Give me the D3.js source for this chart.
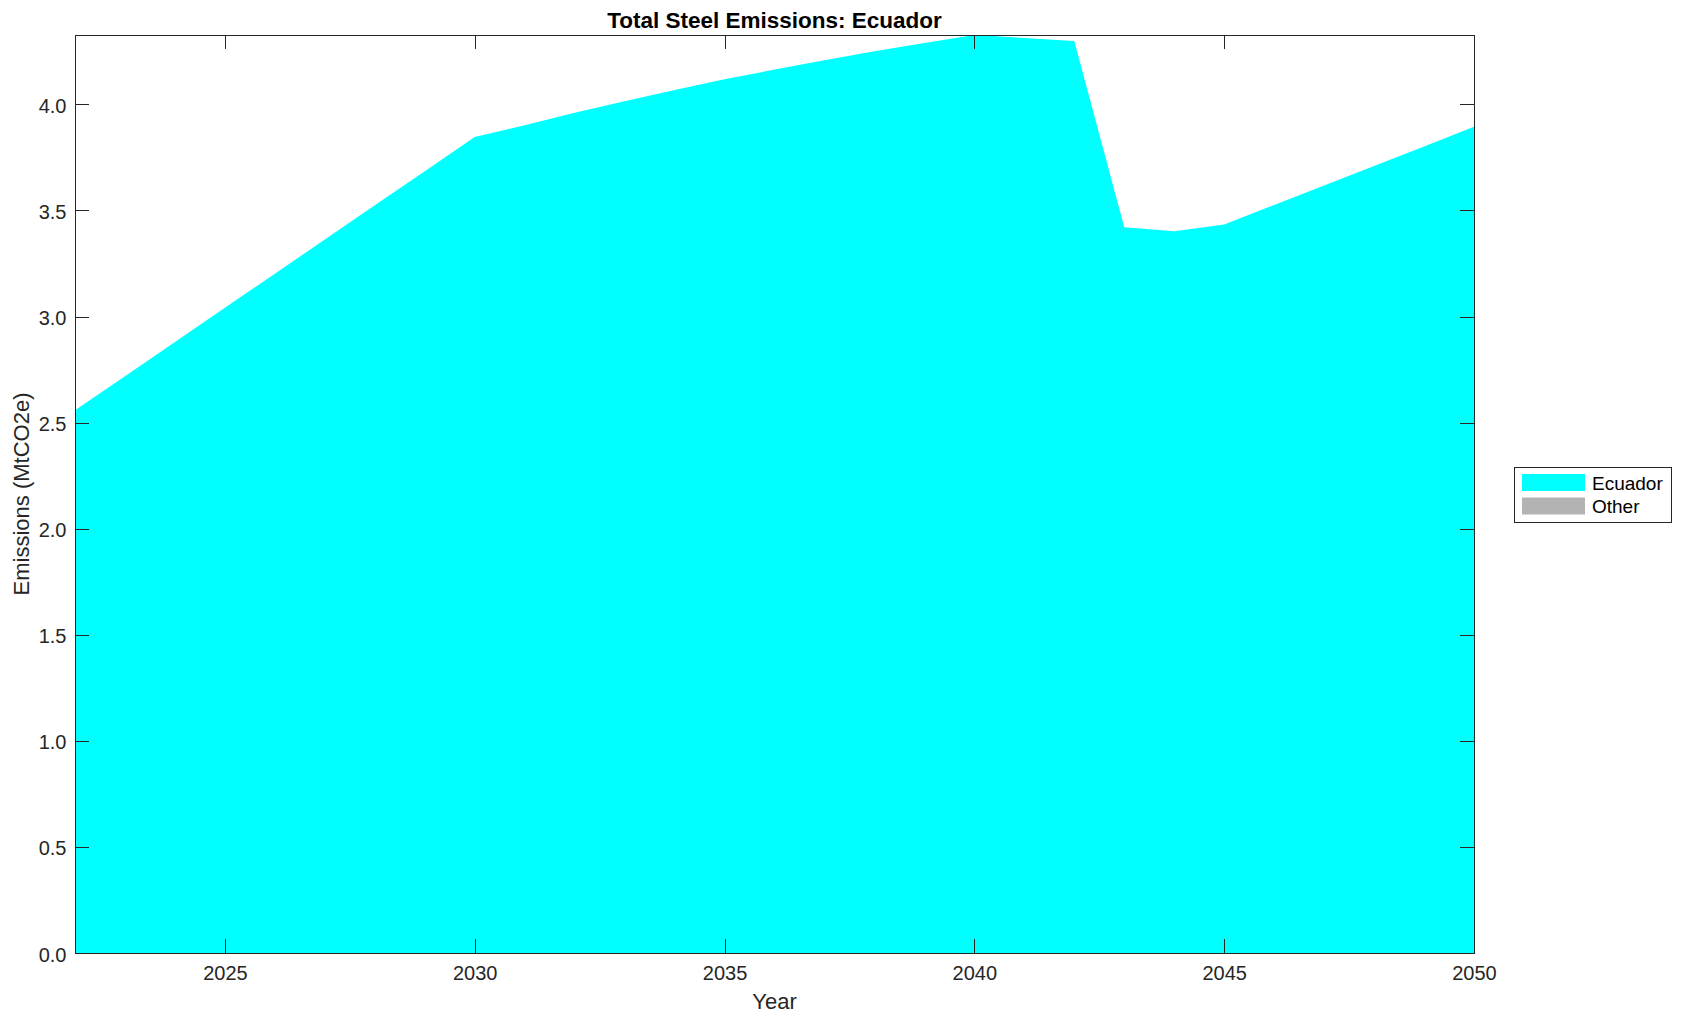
<!DOCTYPE html>
<html>
<head>
<meta charset="utf-8">
<title>Total Steel Emissions: Ecuador</title>
<script src="https://cdn.jsdelivr.net/npm/d3@7"></script>
<style>
  body { margin: 0; background: #fff; }
  text { font-family: "Liberation Sans", Arial, Helvetica, sans-serif; }
</style>
</head>
<body>
<div id="emissions_plot"></div>
<script>
// values
var years = [2022, 2023, 2024, 2025, 2026, 2027, 2028, 2029, 2030,
             2031, 2032, 2033, 2034, 2035, 2036, 2037, 2038, 2039, 2040,
             2041, 2042, 2043, 2044, 2045, 2046, 2047, 2048, 2049, 2050];
var ecuadorValues = [2.558, 2.719, 2.880, 3.041, 3.202, 3.363, 3.524, 3.685, 3.846,
                     3.902, 3.960, 4.015, 4.068, 4.118, 4.164, 4.208, 4.250, 4.289, 4.327,
                     4.313, 4.299, 3.421, 3.402, 3.434, 3.526, 3.618, 3.710, 3.802, 3.894];
var otherValues = years.map(function(){ return 0; });
var seriesNames = ["Ecuador", "Other"];
var seriesColors = ["#00ffff", "#b3b3b3"];
var xTicks = [2025, 2030, 2035, 2040, 2045, 2050];
var yTicks = [0, 0.5, 1.0, 1.5, 2.0, 2.5, 3.0, 3.5, 4.0];

var EmissionsPlot = function(options){
	this.opt = {
		'target': 'emissions_plot',
		'width': 1682,
		'height': 1021
	};
	for (var k in options) this.opt[k] = options[k];
	this.setupSVG();
	this.renderPlot();
};

EmissionsPlot.prototype.setupSVG = function(){
	var margin = {top: 35, right: 208, bottom: 68, left: 75};
	this.margin = margin;
	this.w = this.opt.width - margin.left - margin.right;
	this.h = this.opt.height - margin.top - margin.bottom;

	this.root = d3.select("#" + this.opt.target).append("svg")
		.attr("width", this.opt.width)
		.attr("height", this.opt.height)
		.style("display", "block");
	this.root.append("rect")
		.attr("width", this.opt.width).attr("height", this.opt.height)
		.attr("fill", "#fff");

	this.svg = this.root.append("g")
		.attr("transform", "translate(" + margin.left + "," + margin.top + ")");
};

EmissionsPlot.prototype.renderPlot = function(){
	var self = this;
	var w = this.w, h = this.h;
	var axisColor = "#262626";

	var rows = years.map(function(y, i){
		return {year: y, Ecuador: ecuadorValues[i], Other: otherValues[i]};
	});
	var stacked = d3.stack().keys(seriesNames)(rows);

	var x = d3.scaleLinear().domain([years[0], years[years.length - 1]]).range([0, w]);
	var y = d3.scaleLinear()
		.domain([0, d3.max(stacked[stacked.length - 1], function(d){ return d[1]; })])
		.range([h, 0]);

	var area = d3.area()
		.x(function(d){ return x(d.data.year); })
		.y0(function(d){ return y(d[0]); })
		.y1(function(d){ return y(d[1]); });

	this.svg.selectAll("path.layer")
		.data(stacked)
		.enter().append("path")
		.attr("class", "layer")
		.attr("d", area)
		.attr("fill", function(d, i){ return seriesColors[i]; });

	// inward ticks on all four sides, like a boxed matlab axes
	var tl = 14;
	var fmt = d3.format(".1f");
	var styleAxis = function(g){
		g.select(".domain").remove();
		g.selectAll(".tick line").attr("stroke", axisColor).attr("shape-rendering", "crispEdges");
		g.selectAll(".tick text").attr("fill", axisColor).style("font-size", "20px");
	};

	this.svg.append("g")
		.attr("transform", "translate(0," + h + ")")
		.call(d3.axisBottom(x).tickValues(xTicks).tickFormat(d3.format("d")).tickSizeInner(-tl).tickSizeOuter(0).tickPadding(13))
		.call(styleAxis);
	this.svg.append("g")
		.call(d3.axisTop(x).tickValues(xTicks).tickSizeInner(-tl).tickSizeOuter(0).tickFormat(""))
		.call(styleAxis);
	this.svg.append("g")
		.call(d3.axisLeft(y).tickValues(yTicks).tickFormat(fmt).tickSizeInner(-tl).tickSizeOuter(0).tickPadding(8.5))
		.call(styleAxis)
		.selectAll(".tick text").attr("dy", "0.4em");
	this.svg.append("g")
		.attr("transform", "translate(" + w + ",0)")
		.call(d3.axisRight(y).tickValues(yTicks).tickSizeInner(-tl).tickSizeOuter(0).tickFormat(""))
		.call(styleAxis);

	this.svg.append("rect")
		.attr("x", 0).attr("y", 0).attr("width", w).attr("height", h)
		.attr("fill", "none").attr("stroke", axisColor).attr("stroke-width", 1)
		.attr("shape-rendering", "crispEdges");

	// labels
	this.svg.append("text")
		.attr("x", w / 2).attr("y", -7)
		.attr("text-anchor", "middle")
		.style("font-size", "22.5px").style("font-weight", "bold")
		.attr("fill", "#000")
		.text("Total Steel Emissions: Ecuador");

	this.svg.append("text")
		.attr("x", w / 2).attr("y", h + 56)
		.attr("text-anchor", "middle")
		.style("font-size", "22px")
		.attr("fill", axisColor)
		.text("Year");

	this.svg.append("text")
		.attr("transform", "translate(" + (-46) + "," + (h / 2) + ") rotate(-90)")
		.attr("text-anchor", "middle")
		.style("font-size", "22px")
		.attr("fill", axisColor)
		.text("Emissions (MtCO2e)");

	// legend
	var lg = this.root.append("g").attr("transform", "translate(1514,467)");
	lg.append("rect")
		.attr("width", 157).attr("height", 55)
		.attr("fill", "#fff").attr("stroke", axisColor).attr("stroke-width", 1)
		.attr("shape-rendering", "crispEdges");
	var items = lg.selectAll("g.item").data(seriesNames).enter()
		.append("g").attr("class", "item")
		.attr("transform", function(d, i){ return "translate(8," + (7 + i * 23.5) + ")"; });
	items.append("rect")
		.attr("width", 63).attr("height", 17)
		.attr("fill", function(d, i){ return seriesColors[i]; });
	items.append("text")
		.attr("x", 70).attr("y", 15.5)
		.style("font-size", "19px")
		.attr("fill", "#000")
		.text(function(d){ return d; });
};

var plot = new EmissionsPlot({});
</script>
</body>
</html>
